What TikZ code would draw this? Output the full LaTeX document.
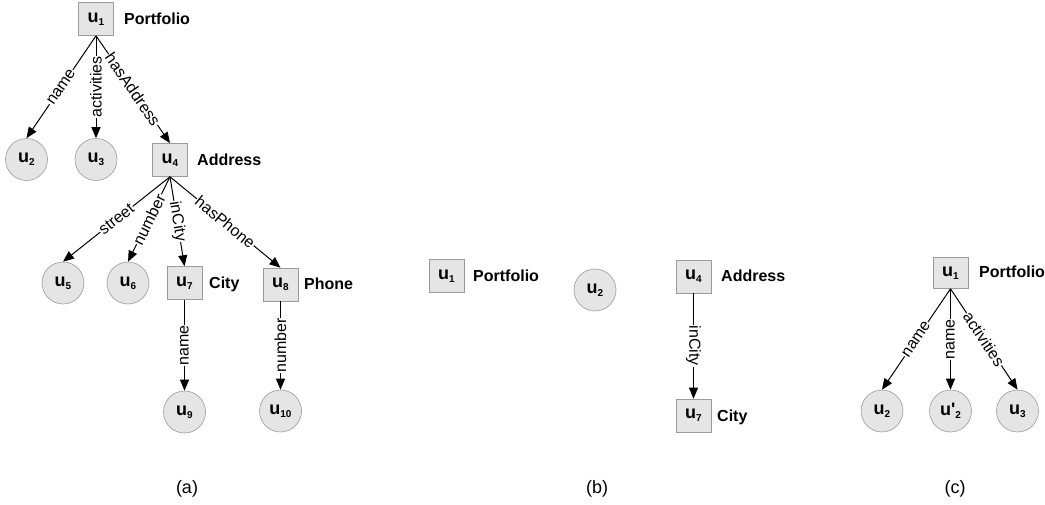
\documentclass[tikz,border=0pt]{standalone}
\usepackage{fontspec}
\setmainfont[Ligatures=TeXOff]{Liberation Sans}
\usetikzlibrary{arrows.meta}
\definecolor{nodefill}{RGB}{229,229,229}
\definecolor{nodeline}{RGB}{155,155,155}
\newcommand\unode[1]{u\raisebox{-0.3ex}{\fontsize{10}{10}\selectfont #1}}
\begin{document}
\begin{tikzpicture}[x=1pt,y=-1pt,
  box/.style={draw=nodeline, fill=nodefill, minimum width=35pt, minimum height=33pt, inner sep=0pt, line width=0.6pt, font=\bfseries\fontsize{18}{18}\selectfont},
  circ/.style={circle, draw=nodeline, fill=nodefill, minimum size=42pt, inner sep=0pt, line width=0.6pt, font=\bfseries\fontsize{18}{18}\selectfont},
  tag/.style={anchor=base west, inner sep=0pt, font=\bfseries\fontsize{16}{16}\selectfont},
  edge/.style={-{Triangle[length=11pt,width=9pt]}, line width=1pt},
  elab/.style={midway, sloped, fill=white, inner sep=0.6pt, font=\fontsize{16}{16}\selectfont},
  vlab/.style={midway, rotate=90, fill=white, inner sep=0.6pt, font=\fontsize{16}{16}\selectfont},
  vlabd/.style={midway, rotate=-90, fill=white, inner sep=0.6pt, font=\fontsize{16}{16}\selectfont},
  captxt/.style={inner sep=0pt, font=\fontsize{18}{18}\selectfont}
]
\useasboundingbox (0,0) rectangle (1045,505);

% ---------- panel (a) ----------
\node[box] (a1) at (96,19) {\unode{1}};
\node[tag] (a1t) at (124,24.5) {Portfolio};
\node[circ] (a2) at (26.5,159.5) {\unode{2}};
\node[circ] (a3) at (96,159.5) {\unode{3}};
\node[box] (a4) at (170,160) {\unode{4}};
\node[tag] (a4t) at (197,165.5) {Address};
\node[circ] (a5) at (63,283) {\unode{5}};
\node[circ] (a6) at (128,283) {\unode{6}};
\node[box] (a7) at (184.5,283) {\unode{7}};
\node[tag] (a7t) at (209,288.5) {City};
\node[box] (a8) at (280.5,284.5) {\unode{8}};
\node[tag] (a8t) at (304,290) {Phone};
\node[circ] (a9) at (184.5,412) {\unode{9}};
\node[circ] (a10) at (280.5,411) {\unode{10}};

\draw[edge] (a1.south) -- node[elab] {name} (a2.north);
\draw[edge] (a1.south) -- node[vlab] {activities} (a3.north);
\draw[edge] (a1.south) -- node[elab] {hasAddress} (a4.north);
\draw[edge] (a4.south) -- node[elab] {street} (a5.north);
\draw[edge] (a4.south) -- node[elab] {number} (a6.north);
\draw[edge] (a4.south) -- node[elab] {inCity} (a7.north);
\draw[edge] (a4.south) -- node[elab] {hasPhone} (a8.north);
\draw[edge] (a7.south) -- node[vlab] {name} (a9.north);
\draw[edge] (a8.south) -- node[vlab] {number} (a10.north);

\node[captxt] (capa) at (187,489) {(a)};

% ---------- panel (b) ----------
\node[box] (b1) at (446.5,276) {\unode{1}};
\node[tag] (b1t) at (473,281.5) {Portfolio};
\node[circ] (b2) at (595,290) {\unode{2}};
\node[box] (b4) at (693.5,276.5) {\unode{4}};
\node[tag] (b4t) at (721,281.5) {Address};
\node[box] (b7) at (693.5,415.5) {\unode{7}};
\node[tag] (b7t) at (717,421.5) {City};
\draw[edge] (b4.south) -- node[vlabd] {inCity} (b7.north);

\node[captxt] (capb) at (597,489) {(b)};

% ---------- panel (c) ----------
\node[box, minimum height=31pt] (c1) at (950.5,273) {\unode{1}};
\node[tag] (c1t) at (979,277.5) {Portfolio};
\node[circ] (c2) at (882,411) {\unode{2}};
\node[circ] (c2p) at (950.5,411) {u'\raisebox{-0.3ex}{\fontsize{10}{10}\selectfont 2}};
\node[circ] (c3) at (1017.5,411) {\unode{3}};
\draw[edge] (c1.south) -- node[elab] {name} (c2.north);
\draw[edge] (c1.south) -- node[vlab] {name} (c2p.north);
\draw[edge] (c1.south) -- node[elab] {activities} (c3.north);

\node[captxt] (capc) at (955,489) {(c)};
\end{tikzpicture}
\end{document}
